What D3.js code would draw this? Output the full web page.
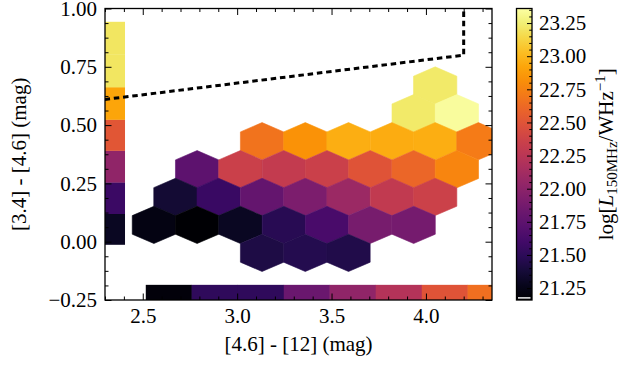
<!DOCTYPE html>
<html>
<head>
<meta charset="utf-8">
<script src="https://cdn.jsdelivr.net/npm/d3@7"></script>
<style>
html,body{margin:0;padding:0;background:#fff;}
svg{display:block;}
text{font-family:"Liberation Serif","DejaVu Serif",serif;fill:#000;}
</style>
</head>
<body>
<svg id="chart" width="633" height="365"></svg>
<script>
// ---------------- DATA ----------------
const xTicks = [2.5, 3.0, 3.5, 4.0];
const xTickLabels = ["2.5", "3.0", "3.5", "4.0"];
const yTicks = [-0.25, 0.0, 0.25, 0.5, 0.75, 1.0];
const yTickLabels = ["\u22120.25", "0.00", "0.25", "0.50", "0.75", "1.00"];
const cbarTicks = [21.25, 21.5, 21.75, 22.0, 22.25, 22.5, 22.75, 23.0, 23.25];
const cbarTickLabels = ["21.25", "21.50", "21.75", "22.00", "22.25", "22.50", "22.75", "23.00", "23.25"];

// hexbin cells: centres ([4.6]-[12], [3.4]-[4.6]) and mean log L150MHz
const hexX = [
  4.049,
  3.935, 4.164,
  3.132, 3.361, 3.590, 3.820, 4.049, 4.278,
  2.788, 3.017, 3.247, 3.476, 3.705, 3.935, 4.164,
  2.673, 2.902, 3.132, 3.361, 3.590, 3.820, 4.049,
  2.559, 2.788, 3.017, 3.247, 3.476, 3.705, 3.935,
  3.132, 3.361, 3.590
];
const hexY = [
  0.670,
  0.551, 0.551,
  0.431, 0.431, 0.431, 0.431, 0.431, 0.431,
  0.311, 0.311, 0.311, 0.311, 0.311, 0.311, 0.311,
  0.192, 0.192, 0.192, 0.192, 0.192, 0.192, 0.192,
  0.072, 0.072, 0.072, 0.072, 0.072, 0.072, 0.072,
  -0.048, -0.048, -0.048
];
const hexLum = [
  23.23,
  23.23, 23.34,
  22.68, 22.83, 22.96, 22.95, 22.96, 22.72,
  21.75, 22.35, 22.31, 22.35, 22.50, 22.61, 22.77,
  21.36, 21.56, 21.78, 21.91, 22.08, 22.30, 22.36,
  21.23, 21.16, 21.29, 21.47, 21.64, 21.89, 21.88,
  21.42, 21.46, 21.44
];

// marginal bins along y ([3.4]-[4.6])
const leftBinEdges = [-0.012, 0.120, 0.255, 0.391, 0.524, 0.663, 0.803, 0.943];
const leftBinLum = [21.29, 21.57, 22.02, 22.51, 22.92, 23.21, 23.21];
// marginal bins along x ([4.6]-[12])
const bottomBinEdges = [2.516, 2.759, 3.003, 3.247, 3.490, 3.734, 3.978, 4.221, 4.465];
const bottomBinLum = [21.20, 21.51, 21.51, 21.82, 22.02, 22.22, 22.50, 22.66];

// AGN wedge (Jarrett et al. 2011)
const wedgeX = [2.2, 4.2, 4.2];
const wedgeY = [0.6, 0.8, 1.7];

// ---------------- LAYOUT ----------------
const xDomain = [2.3, 4.35];
const yDomain = [-0.25, 1.0];
const cDomain = [21.16, 23.36];
const hexSX = 0.2293, hexSY = 0.2392;
const leftBarX = [2.3, 2.406];
const bottomBarY = [-0.25, -0.185];

const plot = {left: 105, right: 492, top: 8.5, bottom: 300};
const cbar = {left: 516.5, right: 532, top: 8.5, bottom: 300};
const FS = 21;

const svg = d3.select("#chart");
const x = d3.scaleLinear().domain(xDomain).range([plot.left, plot.right]);
const y = d3.scaleLinear().domain(yDomain).range([plot.bottom, plot.top]);
const color = d3.scaleSequential(d3.interpolateInferno).domain(cDomain);
const cy = d3.scaleLinear().domain(cDomain).range([cbar.bottom, cbar.top]);

svg.append("defs").append("clipPath").attr("id", "clip")
  .append("rect").attr("x", plot.left).attr("y", plot.top)
  .attr("width", plot.right - plot.left).attr("height", plot.bottom - plot.top);

const gp = svg.append("g").attr("clip-path", "url(#clip)");

// hexagons
const hexVerts = [[0.5, -0.5], [0.5, 0.5], [0, 1], [-0.5, 0.5], [-0.5, -0.5], [0, -1]];
const hexData = hexX.map((d, i) => ({x: d, y: hexY[i], v: hexLum[i]}));
gp.selectAll("path.hex").data(hexData).enter().append("path")
  .attr("class", "hex")
  .attr("d", d => "M" + hexVerts.map(v => [x(d.x + v[0] * hexSX), y(d.y + v[1] * hexSY / 3)].join(",")).join("L") + "Z")
  .attr("fill", d => color(d.v))
  .attr("stroke", d => color(d.v))
  .attr("stroke-width", 0.6);

// left marginal bar
gp.selectAll("rect.lbar").data(leftBinLum).enter().append("rect")
  .attr("x", x(leftBarX[0]))
  .attr("width", x(leftBarX[1]) - x(leftBarX[0]))
  .attr("y", (d, i) => y(leftBinEdges[i + 1]))
  .attr("height", (d, i) => y(leftBinEdges[i]) - y(leftBinEdges[i + 1]) + 0.3)
  .attr("fill", d => color(d));

// bottom marginal bar
gp.selectAll("rect.bbar").data(bottomBinLum).enter().append("rect")
  .attr("x", (d, i) => x(bottomBinEdges[i]))
  .attr("width", (d, i) => x(bottomBinEdges[i + 1]) - x(bottomBinEdges[i]) + 0.3)
  .attr("y", y(bottomBarY[1]))
  .attr("height", y(bottomBarY[0]) - y(bottomBarY[1]))
  .attr("fill", d => color(d));

// wedge line
gp.append("path")
  .datum(wedgeX.map((d, i) => [d, wedgeY[i]]))
  .attr("d", d3.line().x(d => x(d[0])).y(d => y(d[1])))
  .attr("fill", "none").attr("stroke", "#000")
  .attr("stroke-width", 3).attr("stroke-dasharray", "5.5,3.8");

// axes ticks (inward, all four sides)
function minorVals(lo, hi, step, majors) {
  const out = [];
  for (let v = lo; v <= hi + 1e-9; v += step) {
    const r = Math.round(v * 10000) / 10000;
    if (!majors.some(m => Math.abs(m - r) < 1e-6)) out.push(r);
  }
  return out;
}
const xMinor = minorVals(2.3, 4.3, 0.1, xTicks);
const yMinor = minorVals(-0.25, 1.0, 0.0625, yTicks);
const cMinor = minorVals(21.2, 23.35, 0.05, cbarTicks);

function styleAxis(g) {
  g.select(".domain").remove();
  g.selectAll("line").attr("stroke", "#000").attr("stroke-width", 1);
  g.selectAll("text").attr("font-size", FS).attr("font-family", "Liberation Serif, DejaVu Serif, serif").attr("fill", "#000");
}
const MAJ = -6.5, MIN = -3.5;

svg.append("g").attr("transform", `translate(0,${plot.bottom})`)
  .call(d3.axisBottom(x).tickValues(xTicks).tickFormat((d, i) => xTickLabels[i]).tickSize(MAJ).tickPadding(8)).call(styleAxis);
svg.append("g").attr("transform", `translate(0,${plot.bottom})`)
  .call(d3.axisBottom(x).tickValues(xMinor).tickFormat("").tickSize(MIN)).call(styleAxis);
svg.append("g").attr("transform", `translate(0,${plot.top})`)
  .call(d3.axisTop(x).tickValues(xTicks).tickFormat("").tickSize(MAJ)).call(styleAxis);
svg.append("g").attr("transform", `translate(0,${plot.top})`)
  .call(d3.axisTop(x).tickValues(xMinor).tickFormat("").tickSize(MIN)).call(styleAxis);

svg.append("g").attr("transform", `translate(${plot.left},0)`)
  .call(d3.axisLeft(y).tickValues(yTicks).tickFormat((d, i) => yTickLabels[i]).tickSize(MAJ).tickPadding(8)).call(styleAxis);
svg.append("g").attr("transform", `translate(${plot.left},0)`)
  .call(d3.axisLeft(y).tickValues(yMinor).tickFormat("").tickSize(MIN)).call(styleAxis);
svg.append("g").attr("transform", `translate(${plot.right},0)`)
  .call(d3.axisRight(y).tickValues(yTicks).tickFormat("").tickSize(MAJ)).call(styleAxis);
svg.append("g").attr("transform", `translate(${plot.right},0)`)
  .call(d3.axisRight(y).tickValues(yMinor).tickFormat("").tickSize(MIN)).call(styleAxis);

// frame
svg.append("rect").attr("x", plot.left).attr("y", plot.top)
  .attr("width", plot.right - plot.left).attr("height", plot.bottom - plot.top)
  .attr("fill", "none").attr("stroke", "#000").attr("stroke-width", 1.3);

// axis labels
svg.append("text").attr("x", (plot.left + plot.right) / 2).attr("y", 351)
  .attr("text-anchor", "middle").attr("font-size", FS).text("[4.6] - [12] (mag)");
svg.append("text").attr("transform", `translate(26,${(plot.top + plot.bottom) / 2}) rotate(-90)`)
  .attr("text-anchor", "middle").attr("font-size", FS).text("[3.4] - [4.6] (mag)");

// colorbar
const grad = svg.select("defs").append("linearGradient").attr("id", "cgrad")
  .attr("x1", 0).attr("y1", 1).attr("x2", 0).attr("y2", 0);
d3.range(0, 1.0001, 0.05).forEach(t => {
  grad.append("stop").attr("offset", t).attr("stop-color", d3.interpolateInferno(t));
});
svg.append("rect").attr("x", cbar.left).attr("y", cbar.top)
  .attr("width", cbar.right - cbar.left).attr("height", cbar.bottom - cbar.top)
  .attr("fill", "url(#cgrad)");
svg.append("rect").attr("x", cbar.left + 1.5).attr("y", cbar.bottom - 2.8)
  .attr("width", cbar.right - cbar.left - 3).attr("height", 1.4).attr("fill", "#fff");

svg.append("g").attr("transform", `translate(${cbar.right},0)`)
  .call(d3.axisRight(cy).tickValues(cbarTicks).tickFormat((d, i) => cbarTickLabels[i]).tickSize(-5).tickPadding(7)).call(styleAxis);
svg.append("g").attr("transform", `translate(${cbar.right},0)`)
  .call(d3.axisRight(cy).tickValues(cMinor).tickFormat("").tickSize(-2.8)).call(styleAxis);
svg.append("rect").attr("x", cbar.left).attr("y", cbar.top)
  .attr("width", cbar.right - cbar.left).attr("height", cbar.bottom - cbar.top)
  .attr("fill", "none").attr("stroke", "#000").attr("stroke-width", 1.3);

// colorbar label
const cl = svg.append("text")
  .attr("transform", `translate(613,${(cbar.top + cbar.bottom) / 2}) rotate(-90)`)
  .attr("text-anchor", "middle").attr("font-size", FS);
cl.append("tspan").text("log[");
cl.append("tspan").attr("font-style", "italic").text("L");
cl.append("tspan").attr("font-size", 15).attr("dy", 4).text("150MHz");
cl.append("tspan").attr("dy", -4).text("/WHz");
cl.append("tspan").attr("font-size", 15).attr("dy", -8).text("\u22121");
cl.append("tspan").attr("dy", 8).text("]");
</script>
</body>
</html>
